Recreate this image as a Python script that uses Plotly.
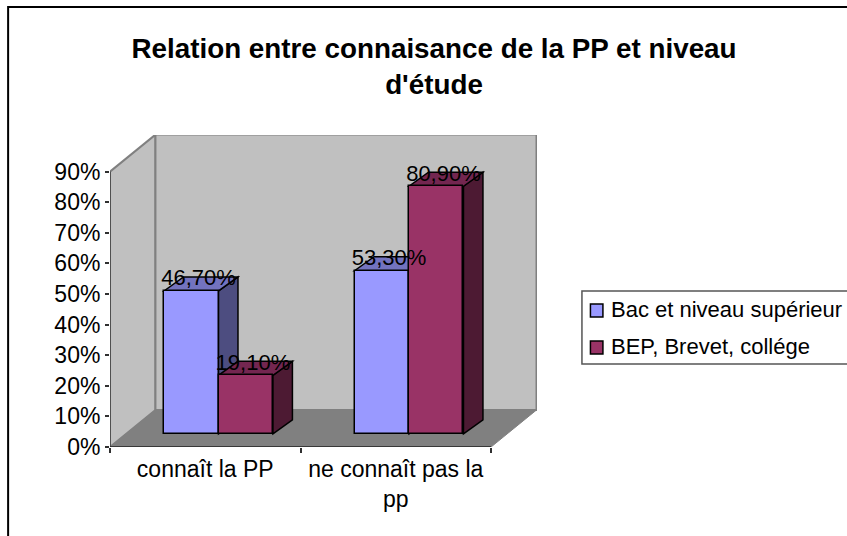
from __future__ import annotations

import plotly.graph_objects as go

W, H = 847, 536
FONT = "Liberation Sans"

# Data
categories = ["connaît la PP", "ne connaît pas la<br>pp"]
series_names = ["Bac et niveau supérieur", "BEP, Brevet, collége"]
bac_values = [46.7, 53.3]
bep_values = [19.1, 80.9]
y_ticks = [0, 10, 20, 30, 40, 50, 60, 70, 80, 90]

# Fixed palette: front, top and side face of each series
FRONT = ["#9999FF", "#993366"]
TOP = ["#7373BF", "#732650"]
SIDE = ["#4D4D80", "#4D1A33"]
WALL = "#C0C0C0"
FLOOR = "#808080"

# Plot box in page pixels, the fake 3D depth goes right and up of the axes
LEFT, RIGHT, TOP_PX, BOTTOM = 109.5, 537, 135, 447
PX_PER_CAT = 190.75
PX_PER_PCT = 3.06
x_max = (RIGHT - LEFT) / PX_PER_CAT
y_max = (BOTTOM - TOP_PX) / PX_PER_PCT

wall_dx, wall_dy = 45.5 / PX_PER_CAT, 37 / PX_PER_PCT
bar_dx, bar_dy = 19.5 / PX_PER_CAT, 14 / PX_PER_PCT
bar_width = 54.5 / PX_PER_CAT
bar_base = 13.2 / PX_PER_PCT
group_shift = 0.0695


def poly(points, fill, line_color="black", line_width=1.5, ref="x"):
    path = "M" + " L".join(f"{a},{b}" for a, b in points) + " Z"
    yref = "y" if ref == "x" else "paper"
    return dict(type="path", path=path, xref=ref, yref=yref, fillcolor=fill,
                line=dict(color=line_color, width=line_width), layer="below")


def px_x(v):
    return (v - LEFT) / (RIGHT - LEFT)


def px_y(v):
    return (BOTTOM - v) / (BOTTOM - TOP_PX)


shapes = [
    # left wall, back wall and floor
    poly([(0, 0), (wall_dx, wall_dy), (wall_dx, wall_dy + 90), (0, 90)], WALL, FLOOR, 2),
    poly([(wall_dx, wall_dy), (wall_dx + 2, wall_dy), (wall_dx + 2, wall_dy + 90),
          (wall_dx, wall_dy + 90)], WALL, FLOOR, 2),
    poly([(0, 0), (2, 0), (2 + wall_dx, wall_dy), (wall_dx, wall_dy)], FLOOR, FLOOR, 1),
    # axis lines, drawn here so they stop at 90% and at the last category
    dict(type="line", x0=0, x1=0, y0=0, y1=90, xref="x", yref="y", layer="below",
         line=dict(color="#404040", width=1.5)),
    dict(type="line", x0=0, x1=2, y0=0, y1=0, xref="x", yref="y", layer="below",
         line=dict(color="#202020", width=1.5)),
]

fig = go.Figure()
label_x, label_y, label_text = [], [], []

for s, values in enumerate([bac_values, bep_values]):
    xs = [i + 0.5 + group_shift + (s - 0.5) * bar_width for i in range(len(values))]
    fig.add_trace(go.Bar(
        x=xs, y=values, base=bar_base, width=bar_width, name=series_names[s],
        marker=dict(color=FRONT[s], line=dict(color="black", width=1.5)),
        showlegend=False,
    ))
    for x, v in zip(xs, values):
        x0, x1 = x - bar_width / 2, x + bar_width / 2
        y0, y1 = bar_base, bar_base + v
        shapes.append(poly([(x1, y0), (x1 + bar_dx, y0 + bar_dy),
                            (x1 + bar_dx, y1 + bar_dy), (x1, y1)], SIDE[s]))
        shapes.append(poly([(x0, y1), (x1, y1), (x1 + bar_dx, y1 + bar_dy),
                            (x0 + bar_dx, y1 + bar_dy)], TOP[s]))
        # labels sit on the back edge of the bar top
        label_x.append(x + bar_dx * 0.37)
        label_y.append(y1 + bar_dy * 0.8)
        label_text.append(f"{v:.2f}".replace(".", ",") + "%")

fig.add_trace(go.Scatter(
    x=label_x, y=label_y, text=label_text, mode="text", textposition="middle center",
    textfont=dict(family=FONT, size=22, color="black"), showlegend=False, cliponaxis=False,
))

# Outer chart border, right and bottom sides fall off the page like the original
shapes.append(dict(type="rect", xref="paper", yref="paper", layer="below",
                   x0=px_x(7.5), x1=px_x(W + 20), y0=px_y(H + 20), y1=px_y(7),
                   line=dict(color="black", width=2)))

# Legend box, built by hand because the swatch sits tight against the text
shapes.append(dict(type="rect", xref="paper", yref="paper", layer="below",
                   x0=px_x(582), x1=px_x(W + 20), y0=px_y(364), y1=px_y(291),
                   line=dict(color="#555555", width=1.5)))
annotations = []
for s, (name, y_top, y_text) in enumerate(zip(series_names, [304, 341], [309, 346])):
    shapes.append(dict(type="rect", xref="paper", yref="paper", layer="above",
                       x0=px_x(590.5), x1=px_x(603), y0=px_y(y_top + 13), y1=px_y(y_top),
                       fillcolor=FRONT[s], line=dict(color="black", width=1.5)))
    annotations.append(dict(text=name, xref="paper", yref="paper", x=px_x(609), y=px_y(y_text),
                            xanchor="left", yanchor="middle", showarrow=False,
                            font=dict(family=FONT, size=22, color="black")))

fig.update_layout(
    width=W, height=H, autosize=False,
    paper_bgcolor="white", plot_bgcolor="rgba(0,0,0,0)",
    margin=dict(l=LEFT, r=W - RIGHT, t=TOP_PX, b=H - BOTTOM, pad=0),
    font=dict(family=FONT, size=23, color="black"),
    title=dict(text="Relation entre connaisance de la PP et niveau<br>d'étude",
               font=dict(family=FONT, size=27.8, color="black", weight="bold"),
               x=434 / W, xanchor="center", y=1 - 58 / H, yanchor="middle"),
    barmode="overlay",
    bargap=0,
    shapes=shapes,
    annotations=annotations,
    showlegend=False,
    xaxis=dict(range=[0, x_max], tickmode="array", tickvals=[0.5, 1.5], ticktext=categories,
               ticks="", showgrid=False, zeroline=False, showline=False, ticklabelstandoff=6,
               tickangle=0,
               minor=dict(tickmode="array", tickvals=[0, 1, 2], ticks="outside", ticklen=5,
                          tickcolor="#303030", tickwidth=1.5, showgrid=False)),
    yaxis=dict(range=[0, y_max], tickmode="array", tickvals=y_ticks,
               ticktext=[f"{t}%" for t in y_ticks], ticks="outside", ticklen=4,
               tickcolor="#303030", tickwidth=1.5, showgrid=False, zeroline=False, showline=False),
)

fig.write_html("out.html", config={"displayModeBar": False},
               post_script="document.body.style.margin='0';")
